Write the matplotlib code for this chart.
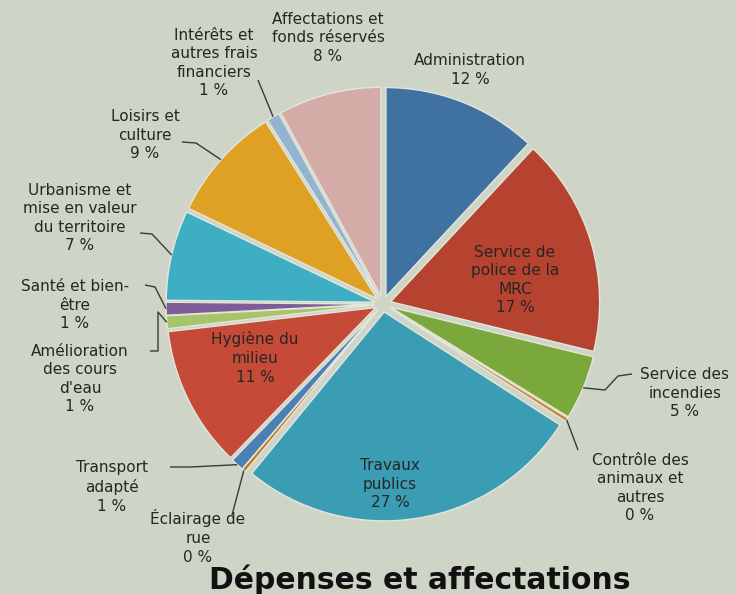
import numpy as np
import matplotlib
matplotlib.use("Agg")
import matplotlib.pyplot as plt

# data (percent of budget, clockwise from the top)
labels = ["Administration", "Service de\npolice de la\nMRC", "Service des\nincendies",
          "Contrôle des\nanimaux et\nautres", "Travaux\npublics", "Éclairage de\nrue",
          "Transport\nadapté", "Hygiène du\nmilieu", "Amélioration\ndes cours\nd'eau",
          "Santé et bien-\nêtre", "Urbanisme et\nmise en valeur\ndu territoire",
          "Loisirs et\nculture", "Intérêts et\nautres frais\nfinanciers",
          "Affectations et\nfonds réservés"]
values = [12, 17, 5, 0.3, 27, 0.3, 1, 11, 1, 1, 7, 9, 1, 8]
shown = [12, 17, 5, 0, 27, 0, 1, 11, 1, 1, 7, 9, 1, 8]
colors = ["#3f72a0", "#b5432f", "#7aa83a", "#c9852a", "#3a9db4", "#c9741f",
          "#4a80b6", "#c64a38", "#a8c46a", "#7d5c98", "#3eaec4", "#dfa124",
          "#93b4cf", "#d4aba7"]

W, H = 736, 594
BG = "#ced5c7"
TXT = "#262626"

fig = plt.figure(figsize=(W / 100, H / 100), dpi=100, facecolor=BG)
ax = fig.add_axes([0, 0, 1, 1])


def px(x, y):
    # pixel coords from top-left -> data coords
    return (x, H - y)


R = 209
# explode offsets are in data units (pixels here)
wedges, _ = ax.pie(values, colors=colors, startangle=90, counterclock=False,
                   radius=R, center=px(383, 304), explode=[8] * len(values),
                   wedgeprops=dict(edgecolor="#e4e6dc", linewidth=1.0),
                   frame=True)
ax.set_xlim(0, W)
ax.set_ylim(0, H)
ax.set_aspect("equal")
ax.axis("off")


def edge_point(i, frac=0.5, rr=1.0):
    w = wedges[i]
    t = np.radians(w.theta1 + (w.theta2 - w.theta1) * frac)
    cx, cy = w.center
    return (cx + w.r * rr * np.cos(t), cy + w.r * rr * np.sin(t))


def txt(i, x, y, **kw):
    s = labels[i] + "\n" + "%d %%" % shown[i]
    ax.text(*px(x, y), s, ha="center", va="center", fontsize=11,
            color=TXT, linespacing=1.3, **kw)


def leader(i, pts, frac=0.5, rr=1.0):
    xs = [p[0] for p in pts]
    ys = [H - p[1] for p in pts]
    ex, ey = edge_point(i, frac, rr)
    xs.append(ex)
    ys.append(ey)
    ax.plot(xs, ys, color="#3a3a3a", lw=1.0, solid_capstyle="butt")


# labels inside
txt(1, 515, 280)
txt(4, 390, 484)
txt(7, 255, 358)

# labels outside
txt(0, 470, 70)
txt(13, 328, 38)
txt(12, 214, 63)
leader(12, [(258, 80)])
txt(11, 145, 135)
leader(11, [(182, 142), (196, 143)])
txt(10, 80, 218)
leader(10, [(140, 233), (152, 234)])
txt(9, 75, 305)
leader(9, [(145, 285), (155, 287)])
txt(8, 80, 379)
leader(8, [(150, 351), (158, 351), (158, 312)])
txt(6, 112, 487)
leader(6, [(170, 467), (190, 467)])
txt(5, 198, 537)
leader(5, [(232, 515)])
txt(2, 685, 393)
leader(2, [(632, 374), (618, 376), (605, 390)])
txt(3, 640, 488)
leader(3, [(578, 450)])

ax.text(*px(420, 580), "Dépenses et affectations", ha="center", va="center",
        fontsize=21.5, fontweight="bold", color="#111111")

fig.savefig("out.png", dpi=100, facecolor=BG)
